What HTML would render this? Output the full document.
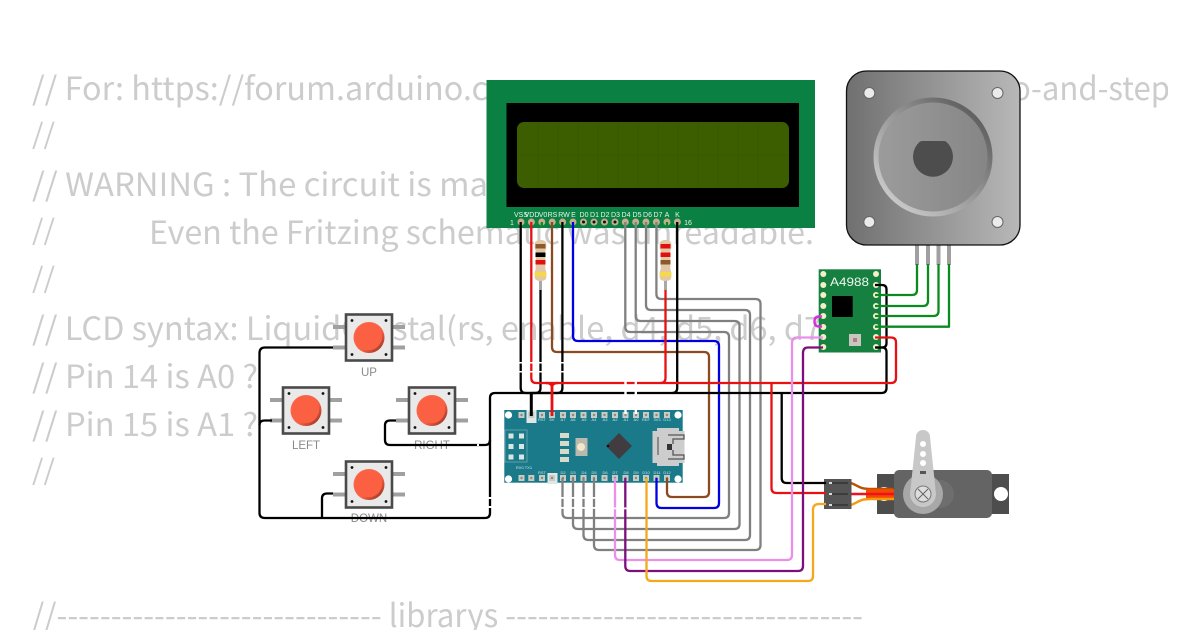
<!DOCTYPE html>
<html><head><meta charset="utf-8"><style>
html,body{margin:0;padding:0;background:#fff;width:1200px;height:630px;overflow:hidden}
svg{display:block}
.t{font-family:"Noto Sans CJK JP","Liberation Sans",sans-serif;font-size:32px;fill:#ccc}
.s{font-size:28px}
.w{fill:none;stroke-width:2.3;stroke-linejoin:round}
.lb{font-family:"Liberation Sans",sans-serif;font-size:7px;fill:#e8f4ec;text-anchor:middle}
.bl{font-family:"Liberation Sans",sans-serif;font-size:11.500px;fill:#8a8a8a;text-anchor:middle}
.nl{font-family:"Liberation Sans",sans-serif;font-size:4px;fill:#cfe3e6;text-anchor:middle}
</style></head><body>
<svg width="1200" height="630" viewBox="0 0 1200 630" xmlns="http://www.w3.org/2000/svg">
<defs>
<linearGradient id="mg" x1="0" x2="1" y1="0" y2="0"><stop offset="0" stop-color="#707070"/><stop offset="1" stop-color="#b8b8b8"/></linearGradient>
<linearGradient id="mi" x1="0" x2="1" y1="0" y2="0"><stop offset="0" stop-color="#9c9c9c"/><stop offset="1" stop-color="#858585"/></linearGradient>
<linearGradient id="rg" x1="0" x2="1" y1="1" y2="0"><stop offset="0" stop-color="#d8d8d8"/><stop offset=".5" stop-color="#999"/><stop offset="1" stop-color="#4c4c4c"/></linearGradient>
<linearGradient id="bt" x1="0" x2="1" y1="0" y2="1"><stop offset="0" stop-color="#ff6a4d"/><stop offset=".6" stop-color="#f95f42"/><stop offset="1" stop-color="#7a2c1d"/></linearGradient>
<g id="btn">
<g fill="#a0a0a0"><rect x="-36" y="-12.500" width="12" height="4"/><rect x="-36" y="8" width="12" height="4"/><rect x="24" y="-12.500" width="12" height="4"/><rect x="24" y="8" width="12" height="4"/></g>
<rect x="-23" y="-23" width="46" height="46" fill="#e9e9e9" stroke="#4a4a4a" stroke-width="2.600"/>
<g fill="#111"><circle cx="-17" cy="-17" r="1.400"/><circle cx="17" cy="-17" r="1.400"/><circle cx="-17" cy="17" r="1.400"/><circle cx="17" cy="17" r="1.400"/></g>
<circle r="15.500" fill="url(#bt)"/><circle cx="-.5" cy="-.8" r="13.600" fill="#fb6042"/>
</g>
<g id="res">
<rect x="-1.500" y="0" width="3" height="50" fill="#a8a8a8"/>
<path d="M-5.800 4q0-4 5.800-4t5.800 4v4l-1 3v18l1 3v5q0 4-5.800 4t-5.800-4v-5l1-3v-18l-1-3z" fill="#e3c8a6"/>
</g>
<g id="np"><rect x="-3" y="-3" width="6" height="6" fill="#c8ccc4"/><circle r="1.200" fill="#8a8a80"/></g>
</defs>
<rect width="1200" height="630" fill="#fff"/>

<!-- background code text -->
<text class="t" x="32" y="100" textLength="456" lengthAdjust="spacingAndGlyphs">// For: https://forum.arduino.c</text>
<svg x="1000" y="60" width="168" height="60" viewBox="1000 60 168 60"><text class="t" x="1012" y="100" textLength="158" lengthAdjust="spacingAndGlyphs">o-and-step</text></svg>
<text class="t s" x="32" y="144" textLength="23" lengthAdjust="spacingAndGlyphs">//</text>
<text class="t" x="32" y="196" textLength="456" lengthAdjust="spacingAndGlyphs">// WARNING : The circuit is ma</text>
<text class="t s" x="32" y="240" textLength="23" lengthAdjust="spacingAndGlyphs">//</text>
<text class="t" x="149" y="244" textLength="665" lengthAdjust="spacingAndGlyphs">Even the Fritzing schematic was unreadable.</text>
<text class="t s" x="32" y="288" textLength="23" lengthAdjust="spacingAndGlyphs">//</text>
<text class="t" x="32" y="340" textLength="790" lengthAdjust="spacingAndGlyphs">// LCD syntax: LiquidCrystal(rs, enable, d4, d5, d6, d7</text>
<text class="t" x="32" y="388" textLength="226" lengthAdjust="spacingAndGlyphs">// Pin 14 is A0 ?</text>
<text class="t" x="32" y="436" textLength="226" lengthAdjust="spacingAndGlyphs">// Pin 15 is A1 ?</text>
<text class="t s" x="32" y="480" textLength="23" lengthAdjust="spacingAndGlyphs">//</text>
<text class="t" x="32" y="627" textLength="831" lengthAdjust="spacingAndGlyphs">//------------------------------ librarys ---------------------------------</text>

<!-- LCD -->
<rect x="486.500" y="80" width="328.500" height="148" fill="#0a8043"/>
<rect x="506.500" y="103" width="292.500" height="104" fill="#000"/>
<rect x="517" y="122" width="272" height="66" rx="7" fill="#3c5e00"/>
<g stroke="#355400" stroke-width=".6" opacity=".7"><path d="M538 122v66M558 122v66M578 122v66M598 122v66M618 122v66M638 122v66M658 122v66M678 122v66M698 122v66M718 122v66M738 122v66M758 122v66M517 155h272"/></g>
<g fill="#c4ae8c">
<circle cx="521" cy="222" r="3.500"/><circle cx="531.400" cy="222" r="3.500"/><circle cx="541.800" cy="222" r="3.500"/><circle cx="552.200" cy="222" r="3.500"/><circle cx="562.600" cy="222" r="3.500"/><circle cx="573" cy="222" r="3.500"/><circle cx="583.500" cy="222" r="3.500"/><circle cx="594" cy="222" r="3.500"/><circle cx="604.500" cy="222" r="3.500"/><circle cx="615" cy="222" r="3.500"/><circle cx="625.300" cy="222" r="3.500"/><circle cx="635.700" cy="222" r="3.500"/><circle cx="646" cy="222" r="3.500"/><circle cx="656.400" cy="222" r="3.500"/><circle cx="667" cy="222" r="3.500"/><circle cx="677.400" cy="222" r="3.500"/>
</g>
<g fill="#111"><circle cx="583.500" cy="222" r="1.500"/><circle cx="594" cy="222" r="1.500"/><circle cx="604.500" cy="222" r="1.500"/><circle cx="615" cy="222" r="1.500"/></g>
<g>
<text class="lb" x="521" y="217">VSS</text><text class="lb" x="532" y="217">VDD</text><text class="lb" x="543" y="217">V0</text><text class="lb" x="552.500" y="217">RS</text><text class="lb" x="564" y="217">RW</text><text class="lb" x="573.500" y="217">E</text><text class="lb" x="584" y="217">D0</text><text class="lb" x="594.500" y="217">D1</text><text class="lb" x="605" y="217">D2</text><text class="lb" x="615.500" y="217">D3</text><text class="lb" x="626" y="217">D4</text><text class="lb" x="637" y="217">D5</text><text class="lb" x="647.500" y="217">D6</text><text class="lb" x="658" y="217">D7</text><text class="lb" x="667" y="217">A</text><text class="lb" x="677.500" y="217">K</text>
<text class="lb" x="512" y="225">1</text><text class="lb" x="688" y="225">16</text>
</g>

<!-- Stepper motor -->
<g fill="#a0a0a0"><rect x="915" y="240" width="4" height="25"/><rect x="926" y="240" width="4" height="25"/><rect x="936.500" y="240" width="4" height="25"/><rect x="947" y="240" width="4" height="25"/></g>
<rect x="846.500" y="71" width="173.500" height="174" rx="20" fill="url(#mg)" stroke="#111" stroke-width="1.300"/>
<circle cx="933" cy="157" r="57" fill="url(#mi)"/>
<circle cx="933" cy="157" r="57" fill="none" stroke="url(#rg)" stroke-width="5"/>
<path d="M922 141h22l2 .5a20 20 0 1 1-26 0z" fill="#4d4d4d"/>
<g fill="#ebebeb" stroke="#666" stroke-width="1"><circle cx="869.300" cy="93" r="5.500"/><circle cx="997.500" cy="93" r="5.500"/><circle cx="869.300" cy="222" r="5.500"/><circle cx="997.500" cy="222" r="5.500"/></g>

<!-- Resistors -->
<use href="#res" transform="translate(540.500 240)"/>
<use href="#res" transform="translate(665.500 240)"/>
<g><rect x="535.500" y="244" width="10" height="4.500" fill="#8b5a2b"/><rect x="535.500" y="252.500" width="10" height="4.500" fill="#000"/><rect x="535.500" y="260" width="10" height="4.500" fill="#e01010"/><rect x="534.700" y="272" width="11.600" height="4.500" fill="#f4d94a"/>
<rect x="660.500" y="244" width="10" height="4.500" fill="#e01010"/><rect x="660.500" y="252.500" width="10" height="4.500" fill="#e01010"/><rect x="660.500" y="260" width="10" height="4.500" fill="#8b5a2b"/><rect x="659.700" y="272" width="11.600" height="4.500" fill="#f4d94a"/></g>

<!-- A4988 -->
<rect x="818.700" y="269.300" width="62.300" height="83.200" fill="#15803f"/>
<rect x="832" y="296" width="20.700" height="21" fill="#000"/>
<rect x="849" y="334" width="12" height="12" fill="#c9c5c0"/><rect x="853" y="338" width="4" height="4" fill="#b07d7d"/>
<text x="849.500" y="286" font-family="Liberation Sans,sans-serif" font-size="12" fill="#f0f5ee" text-anchor="middle" textLength="39" lengthAdjust="spacingAndGlyphs">A4988</text>
<g fill="#f3efc8"><circle cx="823.300" cy="274" r="3"/><circle cx="823.300" cy="285" r="3"/><circle cx="823.300" cy="295" r="3"/><circle cx="823.300" cy="306" r="3"/><circle cx="823.300" cy="316" r="3"/><circle cx="823.300" cy="327" r="3"/><circle cx="823.300" cy="337" r="3"/><circle cx="823.300" cy="347" r="3"/><circle cx="876" cy="274" r="3"/><circle cx="876" cy="285" r="3"/><circle cx="876" cy="295" r="3"/><circle cx="876" cy="306" r="3"/><circle cx="876" cy="316" r="3"/><circle cx="876" cy="327" r="3"/><circle cx="876" cy="337" r="3"/><circle cx="876" cy="347" r="3"/></g>

<!-- Buttons -->
<use href="#btn" transform="translate(369 337.500)"/>
<use href="#btn" transform="translate(306 410.500)"/>
<use href="#btn" transform="translate(432 410.500)"/>
<use href="#btn" transform="translate(369 484.500)"/>
<text class="bl" x="369" y="376">UP</text><text class="bl" x="306" y="449">LEFT</text><text class="bl" x="432" y="449">RIGHT</text><text class="bl" x="369" y="522">DOWN</text>

<!-- Nano -->
<rect x="504.300" y="410" width="178.400" height="72.700" fill="#1a7a8a"/>
<g fill="#fff"><circle cx="508.500" cy="415" r="3.600"/><circle cx="678" cy="415" r="3.600"/><circle cx="508.500" cy="479" r="3.600"/><circle cx="678" cy="479" r="3.600"/></g>
<rect x="505" y="430" width="22" height="32" fill="none" stroke="#6fa9b2" stroke-width=".8"/>
<g fill="#d9e6e3"><rect x="508.500" y="433.500" width="5" height="5"/><rect x="519" y="433.500" width="5" height="5"/><rect x="508.500" y="444" width="5" height="5"/><rect x="519" y="444" width="5" height="5"/><rect x="508.500" y="454.500" width="5" height="5"/><rect x="519" y="454.500" width="5" height="5"/></g>
<rect x="526.500" y="410" width="10" height="13" fill="#dfe8e6"/><rect x="547.500" y="473" width="10" height="11" fill="#dfe8e6"/>
<use href="#np" x="521.500" y="415"/><use href="#np" x="531.300" y="415"/><use href="#np" x="542" y="415"/><use href="#np" x="552" y="415"/><use href="#np" x="563" y="415"/><use href="#np" x="573" y="415"/><use href="#np" x="583.500" y="415"/><use href="#np" x="594" y="415"/><use href="#np" x="604.500" y="415"/><use href="#np" x="615" y="415"/><use href="#np" x="625.500" y="415"/><use href="#np" x="636" y="415"/><use href="#np" x="646" y="415"/><use href="#np" x="656.500" y="415"/><use href="#np" x="667" y="415"/>
<use href="#np" x="521.500" y="478"/><use href="#np" x="531.300" y="478"/><use href="#np" x="542" y="478"/><use href="#np" x="552" y="478"/><use href="#np" x="563" y="478"/><use href="#np" x="573" y="478"/><use href="#np" x="583.500" y="478"/><use href="#np" x="594" y="478"/><use href="#np" x="604.500" y="478"/><use href="#np" x="615" y="478"/><use href="#np" x="625.500" y="478"/><use href="#np" x="636" y="478"/><use href="#np" x="646" y="478"/><use href="#np" x="656.500" y="478"/><use href="#np" x="667" y="478"/>
<rect x="575.500" y="438" width="12" height="18" fill="#b9b9ae"/><circle cx="581" cy="447" r="4" fill="#f0e8c8"/>
<g fill="#d6dcc9"><rect x="560" y="433" width="9" height="5"/><rect x="560" y="441" width="9" height="5"/><rect x="560" y="449" width="9" height="5"/><rect x="560" y="457" width="9" height="5"/></g>
<path d="M619 433l13 13-13 13-13-13z" fill="#413c40"/><circle cx="608" cy="446" r="1.300" fill="#111"/>
<rect x="652.500" y="431" width="32" height="32" fill="#cdcdcd"/><rect x="657" y="428" width="22" height="38" fill="#cdcdcd"/>
<path d="M668 435h16v4h-11v5M668 459h16v-4h-11v-5" fill="none" stroke="#555" stroke-width="1.300"/><rect x="667" y="444" width="5" height="6" fill="#333"/><path d="M658 437v18" stroke="#666" stroke-width="1.300"/>
<text class="nl" x="542" y="421">RST</text><text class="nl" x="552" y="421">5V</text><text class="nl" x="563" y="421">A7</text><text class="nl" x="573" y="421">A6</text><text class="nl" x="584" y="421">A5</text><text class="nl" x="594" y="421">A4</text><text class="nl" x="605" y="421">A3</text><text class="nl" x="615" y="421">A2</text><text class="nl" x="626" y="421">A1</text><text class="nl" x="636" y="421">A0</text><text class="nl" x="646" y="421">REF</text><text class="nl" x="657" y="421">3V3</text><text class="nl" x="667" y="421">D13</text>
<text class="nl" x="563" y="474">D2</text><text class="nl" x="573" y="474">D3</text><text class="nl" x="584" y="474">D4</text><text class="nl" x="594" y="474">D5</text><text class="nl" x="605" y="474">D6</text><text class="nl" x="615" y="474">D7</text><text class="nl" x="626" y="474">D8</text><text class="nl" x="636" y="474">D9</text><text class="nl" x="646" y="474">D10</text><text class="nl" x="657" y="474">D11</text><text class="nl" x="667" y="474">D12</text><text class="nl" x="524" y="469">RX0 TX1</text><text class="nl" x="542" y="474">RST</text>

<!-- Servo -->
<rect x="877" y="474" width="132" height="40" fill="#4d4d4d"/>
<circle cx="884" cy="494" r="7" fill="#fff"/><circle cx="1001" cy="494" r="7" fill="#fff"/>
<rect x="894" y="470" width="98" height="48" rx="5" fill="#646464"/>
<circle cx="940" cy="494" r="14" fill="#6e6e6e"/>
<circle cx="923" cy="494" r="20" fill="#a8a8a8"/>
<path d="M916 437a7 7 0 0 1 14 0l6 57a13 13 0 0 1-26 0z" fill="#c8c8c8"/>
<g fill="#fff"><circle cx="923" cy="444" r="3"/><circle cx="923" cy="454" r="3"/><circle cx="923" cy="463" r="3"/></g><rect x="920" y="471" width="6" height="3" fill="#555"/>
<circle cx="923" cy="494" r="8" fill="#ddd" stroke="#777" stroke-width="1"/>
<path d="M918 489l10 10M928 489l-10 10" stroke="#666" stroke-width="1"/>
<path d="M851 483c8 3 8 6 20 6h22" fill="none" stroke="#b85400" stroke-width="2.400"/>
<path d="M866 489h28v11h-28z" fill="#f24a00"/>
<path d="M851 494h43" stroke="#f01020" stroke-width="2.400"/>
<path d="M851 505c8-3 8-6 20-6h23" fill="none" stroke="#f59a0f" stroke-width="2.400"/>
<rect x="824" y="479" width="27.500" height="30" fill="#555"/>
<g stroke="#222" stroke-width="1"><path d="M832 483h16M832 494h16M832 505h16"/></g><g fill="#ddd"><rect x="829" y="482" width="3" height="2"/><rect x="829" y="493" width="3" height="2"/><rect x="829" y="504" width="3" height="2"/></g>

<!-- Wires -->
<g class="w" stroke="#808080">
<path d="M625.300 222V327q0 5 5 5H724q5 0 5 5V513q0 5-5 5H567.500q-5 0-5-5V478"/>
<path d="M635.700 222V316q0 5 5 5H734.500q5 0 5 5V524q0 5-5 5H578q-5 0-5-5V478"/>
<path d="M646 222V305q0 5 5 5H745q5 0 5 5V535q0 5-5 5H588.500q-5 0-5-5V478"/>
<path d="M656.400 222V294q0 5 5 5H755.500q5 0 5 5V545q0 5-5 5H599q-5 0-5-5V478"/>
</g>
<path class="w" stroke="#0000e0" d="M573 222V336q0 5 5 5H714q5 0 5 5V503q0 5-5 5H661.500q-5 0-5-5V478"/>
<path class="w" stroke="#8b4a20" d="M552 222V347q0 5 5 5H704q5 0 5 5V492q0 5-5 5H672q-5 0-5-5V478"/>
<g class="w" stroke="#000">
<path d="M520.700 222V388q0 5 5 5h5.300"/>
<path d="M562.400 222V388q0 5-5 5h-26"/>
<path d="M540.500 290V388q0 5-5 5h-4.500"/>
<path d="M677.200 222V388q0 5-5 5"/>
<path d="M875 285h7q4.500 0 4.500 4.500V343q0 4.500-4.500 4.500h-6"/>
<path d="M875 347.500h7q4.500 0 4.500 4.500V388q0 5-5 5H495q-5 0-5 5V513q0 5-5 5H265q-5.500 0-5.500-5V353q0-5.500 5.500-5.500H333"/>
<path d="M259.500 425q0-4.500 5-4.500H272"/>
<path d="M333 493.500h-6q-5 0-5 5V518"/>
<path d="M396 420.500h-6q-5 0-5 5V440q0 5 5 5H485q5 0 5-5"/>
<path d="M781.700 393V478q0 5 5 5H826"/>
</g>
<path d="M531.300 393V416" stroke="#000" stroke-width="3" fill="none"/>
<g class="w" stroke="#e81010">
<path d="M531.300 222V378q0 5 5 5H891"/>
<path d="M875 337.500h16q5 0 5 5V378q0 5-5 5"/>
<path d="M665.500 290V378q0 5-5 5"/>
<path d="M771.500 383V488q0 5 5 5H826"/>
</g>
<path d="M552 385V416" stroke="#e81010" stroke-width="2.800" fill="none"/>
<path d="M546 383q6 0 6 4q0-4 6-4" stroke="#e81010" stroke-width="2.400" fill="none"/>
<g class="w" stroke="#0b8a1f">
<path d="M875 295h37q5 0 5-5V264"/>
<path d="M875 306h48q5 0 5-5V264"/>
<path d="M875 316h58.500q5 0 5-5V264"/>
<path d="M875 326.700h74V264"/>
<path d="M541.800 222v5M667 222v5"/>
</g>
<path d="M822 316.500h-3q-4.500 0-4.500 5t4.500 5h3" fill="none" stroke="#d82fd8" stroke-width="2.400"/>
<path class="w" stroke="#ea8fea" d="M615 478V555q0 5 5 5H787q5 0 5-5V343q0-5.500 5-5.500H823"/>
<path class="w" stroke="#7d0f7d" d="M625.300 478V566q0 5 5 5H798q5 0 5-5V353q0-5.500 5-5.500H823"/>
<path class="w" stroke="#f5a81c" d="M646.500 478V576q0 5 5 5H808q5 0 5-5V510q0-6 6-6H826"/>

<!-- white wire breaks -->
<g fill="#fff">
<rect x="624.300" y="379" width="2.400" height="35"/><rect x="634.600" y="379" width="2.400" height="35"/>
<rect x="518" y="362" width="47" height="1.500"/><rect x="518" y="371" width="47" height="1.500"/>
<rect x="560" y="497" width="37" height="1.800"/><rect x="560" y="507" width="37" height="1.800"/>
<rect x="612" y="507.500" width="16" height="1.800"/>
<rect x="488" y="497" width="4" height="2"/><rect x="488" y="506" width="4" height="2"/>
<rect x="477" y="444" width="2" height="2"/>
</g>
</svg>
</body></html>
